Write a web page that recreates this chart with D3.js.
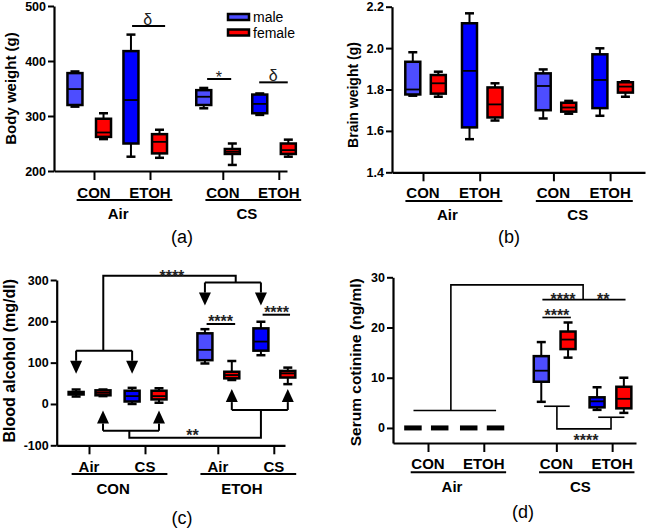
<!DOCTYPE html>
<html>
<head>
<meta charset="utf-8">
<script src="https://cdn.jsdelivr.net/npm/d3@7"></script>
<style>
  body { margin: 0; background: #fff; }
  svg { display: block; font-family: "Liberation Sans", Arial, sans-serif; }
</style>
</head>
<body>
<svg id="chart" width="648" height="528"></svg>
<script>
// x slots for the four tick positions (two groups of two, wider gap between groups)
const slots = [0, 1, 2.3, 3.3];

// colours
const LIGHT = "#4d4dff", DARK = "#0000ff", RED = "#ff0000";
const maleShade = [LIGHT, DARK, LIGHT, DARK];

// box stats are [min, q1, median, q3, max]
// (a) body weight (g)
const weightTicks = [200, 300, 400, 500];
const weightCats = ["CON", "ETOH", "CON", "ETOH"];
const weightGroups = ["Air", "CS"];
const weightMale = [[317, 320, 349, 378, 381], [226, 250, 329, 418, 448], [314, 320, 335, 347, 351], [302, 305, 322, 339, 341]];
const weightFemale = [[258, 262, 270, 295, 305], [224, 232, 253, 267, 275], [211, 231, 235, 240, 250], [226, 231, 238, 250, 257]];

// (b) brain weight (g)
const brainTicks = [1.4, 1.6, 1.8, 2.0, 2.2];
const brainMale = [[1.77, 1.776, 1.80, 1.934, 1.98], [1.56, 1.617, 1.89, 2.12, 2.168], [1.66, 1.70, 1.817, 1.878, 1.897], [1.673, 1.71, 1.846, 1.97, 1.999]];
const brainFemale = [[1.765, 1.78, 1.83, 1.87, 1.886], [1.65, 1.665, 1.728, 1.81, 1.83], [1.683, 1.693, 1.713, 1.736, 1.745], [1.765, 1.785, 1.814, 1.835, 1.84]];

// (c) blood alcohol (mg/dl)
const alcoholTicks = [-100, 0, 100, 200, 300];
const alcoholCats = ["Air", "CS", "Air", "CS"];
const alcoholGroups = ["CON", "ETOH"];
const alcoholMale = [[18, 23, 26, 29, 35], [0, 6, 19, 32, 39], [98, 106, 131, 171, 181], [118, 129, 151, 183, 199]];
const alcoholFemale = [[19, 21, 27, 33, 35], [3, 11, 19, 32, 38], [58, 62, 70, 78, 104], [48, 64, 74, 80, 88]];

// (d) serum cotinine (ng/ml)
const cotinineTicks = [0, 10, 20, 30];
const cotinineMale = [[0, 0, 0, 0, 0], [0, 0, 0, 0, 0], [5.2, 9.2, 11.4, 14.3, 17.1], [3.6, 4.1, 5.3, 6.1, 8.1]];
const cotinineFemale = [[0, 0, 0, 0, 0], [0, 0, 0, 0, 0], [14.0, 15.7, 17.6, 19.2, 21.0], [3.0, 3.9, 5.8, 8.2, 10.0]];

// significance marks: lines as [slot, value] points, arrows as [slot, from, tip], labels as [slot, value, text, dy]
const weightLines = [[[0.68, 463.6], [1.27, 463.6]], [[2.02, 367.3], [2.45, 367.3]], [[2.95, 361.2], [3.46, 361.2]]];
const weightLabels = [[0.96, 463.6, "δ", -1], [2.23, 367.3, "*", 4], [3.2, 361.2, "δ", -1]];

const alcoholLines = [
  [[0.255, 129], [0.255, 310], [2.62, 310], [2.62, 294]],
  [[-0.23, 129], [0.77, 129]],
  [[2.07, 294], [3.07, 294]],
  [[2.1, 193.5], [2.61, 193.5]],
  [[3.1, 216], [3.59, 216]],
  [[0.25, -64.5], [1.25, -64.5]],
  [[0.72, -64.5], [0.72, -82], [3.07, -82], [3.07, -14.5]],
  [[2.55, -14.5], [3.55, -14.5]]
];
const alcoholArrows = [[-0.23, 129, 73], [0.77, 129, 73], [2.07, 294, 238], [3.07, 294, 238],
  [0.25, -64.5, -16], [1.25, -64.5, -16], [2.55, -14.5, 36], [3.55, -14.5, 36]];
const alcoholLabels = [[1.48, 310, "****", 6], [2.35, 193.5, "****", 3], [3.35, 216, "****", 3], [1.85, -82, "**", 3]];

const cotinineLines = [
  [[-0.26, 3.46], [1.22, 3.46]],
  [[0.41, 3.46], [0.41, 28.5], [2.78, 28.5], [2.78, 25.55]],
  [[2.05, 25.55], [3.54, 25.55]],
  [[2.05, 22.0], [2.56, 22.0]],
  [[2.08, 4.32], [2.54, 4.32]],
  [[2.31, 4.32], [2.31, -0.19], [3.28, -0.19], [3.28, 2.13]],
  [[3.05, 2.13], [3.52, 2.13]]
];
const cotinineLabels = [[2.42, 25.55, "****", 5], [3.14, 25.55, "**", 5], [2.31, 22.0, "****", 4], [2.83, -0.19, "****", 17]];

const svg = d3.select("#chart");

function drawPanel(p) {
  const g = svg.append("g");
  const x = d3.scaleLinear()
    .domain([(p.left - p.tick0) / p.unit, (p.right - p.tick0) / p.unit])
    .range([p.left, p.right]);
  const y = d3.scaleLinear().domain(p.yDomain).range([p.bottom, p.top]);

  // annotation lines go under the boxes
  const ann = g.append("g");
  (p.lines || []).forEach(pts => {
    ann.append("path")
      .attr("d", d3.line().x(d => x(d[0])).y(d => y(d[1]))(pts))
      .attr("fill", "none")
      .attr("stroke", "#000")
      .attr("stroke-width", p.annWidth);
  });
  (p.arrows || []).forEach(([s, from, tip]) => {
    const ax = x(s), y0 = y(from), y1 = y(tip);
    const dir = y1 > y0 ? 1 : -1;
    const headLen = 13, half = 6;
    ann.append("line")
      .attr("x1", ax).attr("x2", ax)
      .attr("y1", y0).attr("y2", y1 - dir * headLen)
      .attr("stroke", "#000").attr("stroke-width", p.annWidth);
    ann.append("path")
      .attr("d", `M${ax - half},${y1 - dir * headLen}L${ax + half},${y1 - dir * headLen}L${ax},${y1}Z`)
      .attr("fill", "#000");
  });
  (p.labels || []).forEach(([s, v, t, dy]) => {
    ann.append("text")
      .attr("x", x(s))
      .attr("y", y(v) + dy)
      .attr("text-anchor", "middle")
      .style("font-size", "16px")
      .style("font-weight", p.boldStars ? "bold" : "normal")
      .style("fill", "#222")
      .text(t);
  });

  // boxes
  const bw = 15;
  const boxes = [];
  p.male.forEach((s, i) => boxes.push({ s, slot: slots[i] + p.offM, fill: maleShade[i] }));
  p.female.forEach((s, i) => boxes.push({ s, slot: slots[i] + p.offF, fill: RED }));
  boxes.forEach(b => {
    const [mn, q1, md, q3, mx] = b.s;
    const cx = x(b.slot);
    const top = y(q3), bot = y(q1);
    const h = Math.max(bot - top, 2.5);
    const mid = (top + bot) / 2;
    const bg = g.append("g");
    bg.append("line")
      .attr("x1", cx).attr("x2", cx).attr("y1", y(mx)).attr("y2", y(mn))
      .attr("stroke", "#000").attr("stroke-width", 2);
    [mx, mn].forEach(v => {
      bg.append("line")
        .attr("x1", cx - 4.5).attr("x2", cx + 4.5).attr("y1", y(v)).attr("y2", y(v))
        .attr("stroke", "#000").attr("stroke-width", 2.5);
    });
    bg.append("rect")
      .attr("x", cx - bw / 2).attr("y", mid - h / 2)
      .attr("width", bw).attr("height", h)
      .attr("fill", b.fill)
      .attr("stroke", "#000").attr("stroke-width", 2.5);
    bg.append("line")
      .attr("x1", cx - bw / 2).attr("x2", cx + bw / 2).attr("y1", y(md)).attr("y2", y(md))
      .attr("stroke", "#000").attr("stroke-width", 1.8);
  });

  // axes
  const yAxis = g.append("g")
    .attr("transform", `translate(${p.left},0)`)
    .call(d3.axisLeft(y).tickValues(p.yTicks).tickFormat(p.fmt).tickSize(6).tickSizeOuter(0).tickPadding(2));
  const xAxis = g.append("g")
    .attr("transform", `translate(0,${p.bottom})`)
    .call(d3.axisBottom(x).tickValues(slots).tickFormat("").tickSize(9).tickSizeOuter(0));
  [yAxis, xAxis].forEach(a => {
    a.select(".domain").attr("stroke", "#000").attr("stroke-width", 2.2);
    a.selectAll(".tick line").attr("stroke", "#000").attr("stroke-width", 2);
  });
  yAxis.selectAll("text")
    .attr("fill", "#000")
    .style("font-family", "\"Liberation Sans\", Arial, sans-serif")
    .style("font-size", p.tickFont)
    .style("font-weight", "bold");

  // category labels
  p.cats.forEach((c, i) => {
    g.append("text")
      .attr("x", x(slots[i])).attr("y", p.row1)
      .attr("text-anchor", "middle")
      .style("font-size", "15px").style("font-weight", "bold")
      .text(c);
  });
  p.groups.forEach((c, i) => {
    const a = slots[2 * i], b = slots[2 * i + 1];
    g.append("line")
      .attr("x1", x(a - 0.31)).attr("x2", x(b + 0.4))
      .attr("y1", p.rule).attr("y2", p.rule)
      .attr("stroke", "#000").attr("stroke-width", 2);
    g.append("text")
      .attr("x", x((a + b) / 2 - 0.07)).attr("y", p.row2)
      .attr("text-anchor", "middle")
      .style("font-size", "15px").style("font-weight", "bold")
      .text(c);
  });

  // axis title and panel letter
  g.append("text")
    .attr("transform", `translate(${p.titleX},${p.titleY}) rotate(-90)`)
    .attr("text-anchor", "middle")
    .style("font-size", p.titleFont).style("font-weight", "bold")
    .text(p.title);
  g.append("text")
    .attr("x", p.letterX).attr("y", p.letterY)
    .attr("text-anchor", "middle")
    .style("font-size", "18px")
    .text(p.letter);

  return { g, x, y };
}

const intFmt = d => String(d);

const a = drawPanel({
  left: 54, right: 287, tick0: 94, unit: 56, top: 6, bottom: 171,
  yDomain: [200, 500], yTicks: weightTicks, fmt: intFmt, tickFont: "12.5px",
  offM: -0.34, offF: 0.17, male: weightMale, female: weightFemale,
  cats: weightCats, groups: weightGroups, row1: 197.5, rule: 200, row2: 218.5,
  title: "Body weight (g)", titleX: 16, titleY: 88.5, titleFont: "15px",
  letter: "(a)", letterX: 182, letterY: 243,
  lines: weightLines, labels: weightLabels, annWidth: 2, boldStars: false
});

drawPanel({
  left: 392, right: 645, tick0: 423, unit: 56.7, top: 6.7, bottom: 172.3,
  yDomain: [1.4, 2.2], yTicks: brainTicks, fmt: d => d.toFixed(1), tickFont: "12.5px",
  offM: -0.18, offF: 0.27, male: brainMale, female: brainFemale,
  cats: weightCats, groups: weightGroups, row1: 198, rule: 201, row2: 220.4,
  title: "Brain weight (g)", titleX: 358, titleY: 95, titleFont: "14px",
  letter: "(b)", letterX: 509, letterY: 243
});

drawPanel({
  left: 56.7, right: 285, tick0: 89, unit: 56, top: 280, bottom: 445.3,
  yDomain: [-100, 300], yTicks: alcoholTicks, fmt: intFmt, tickFont: "12.5px",
  offM: -0.23, offF: 0.25, male: alcoholMale, female: alcoholFemale,
  cats: alcoholCats, groups: alcoholGroups, row1: 471.7, rule: 474, row2: 494.4,
  title: "Blood alcohol (mg/dl)", titleX: 15, titleY: 360.7, titleFont: "16px",
  letter: "(c)", letterX: 182, letterY: 524,
  lines: alcoholLines, arrows: alcoholArrows, labels: alcoholLabels, annWidth: 2, boldStars: true
});

drawPanel({
  left: 393, right: 636, tick0: 428, unit: 55.8, top: 277.3, bottom: 443,
  yDomain: [-3, 30], yTicks: cotinineTicks, fmt: intFmt, tickFont: "12.5px",
  offM: -0.27, offF: 0.21, male: cotinineMale, female: cotinineFemale,
  cats: weightCats, groups: weightGroups, row1: 469.4, rule: 472.3, row2: 492,
  title: "Serum cotinine (ng/ml)", titleX: 361, titleY: 362.3, titleFont: "15.5px",
  letter: "(d)", letterX: 523, letterY: 517.5,
  lines: cotinineLines, labels: cotinineLabels, annWidth: 1.6, boldStars: true
});

// legend in panel (a)
const legendItems = ["male", "female"];
const legendFill = [LIGHT, RED];
const legend = a.g.append("g").attr("transform", "translate(228,14)");
legendItems.forEach((name, i) => {
  legend.append("rect")
    .attr("x", 0).attr("y", i * 15.5)
    .attr("width", 21).attr("height", 6)
    .attr("fill", legendFill[i])
    .attr("stroke", "#000").attr("stroke-width", 2.5);
  legend.append("text")
    .attr("x", 25).attr("y", i * 15.5 + 8)
    .style("font-size", "14px")
    .text(name);
});
</script>
</body>
</html>
